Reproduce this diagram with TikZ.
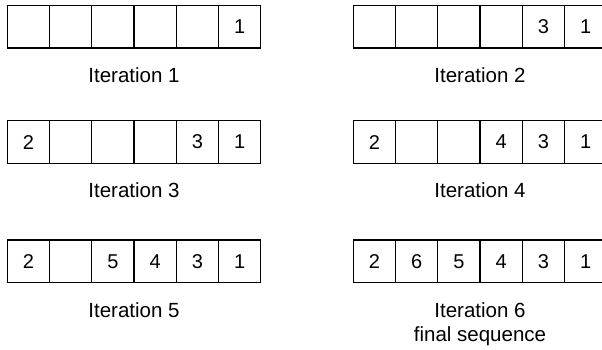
\documentclass[tikz,border=0pt]{standalone}
\usepackage{fontspec}
\setmainfont{Liberation Sans}
\begin{document}
\begin{tikzpicture}[x=1pt,y=-1pt,
  cell/.style={draw, line width=1.3pt, minimum width=42.25pt, minimum height=42.5pt,
    inner sep=0pt, outer sep=0pt, anchor=north west, font=\fontsize{20}{24}\selectfont},
  caption/.style={anchor=base, inner sep=0pt, font=\fontsize{20.5}{24.5}\selectfont, align=center}]
\useasboundingbox (0,0) rectangle (602,349);
\clip (0,0) rectangle (602,349);
% row 1
\foreach [count=\i] \v in {{},{},{},{},{},1}
  \node[cell] (aL\i) at ({7.3+(\i-1)*42.25}, 5.5) {\v};
\foreach [count=\i] \v in {{},{},{},{},3,1}
  \node[cell] (aR\i) at ({353.3+(\i-1)*42.25}, 5.5) {\v};
% row 2
\foreach [count=\i] \v in {2,{},{},{},3,1}
  \node[cell] (bL\i) at ({7.3+(\i-1)*42.25}, 120.8) {\v};
\foreach [count=\i] \v in {2,{},{},4,3,1}
  \node[cell] (bR\i) at ({353.3+(\i-1)*42.25}, 120.8) {\v};
% row 3
\foreach [count=\i] \v in {2,{},5,4,3,1}
  \node[cell] (cL\i) at ({7.3+(\i-1)*42.25}, 240) {\v};
\foreach [count=\i] \v in {2,6,5,4,3,1}
  \node[cell] (cR\i) at ({353.3+(\i-1)*42.25}, 240) {\v};
% captions
\node[caption] (capA) at (134, 82) {Iteration 1};
\node[caption] (capB) at (480, 82) {Iteration 2};
\node[caption] (capC) at (134, 197.7) {Iteration 3};
\node[caption] (capD) at (480, 197.7) {Iteration 4};
\node[caption] (capE) at (134, 317.3) {Iteration 5};
\node[caption] (capF) at (480, 341.7) {Iteration 6\\final sequence};
\end{tikzpicture}
\end{document}
